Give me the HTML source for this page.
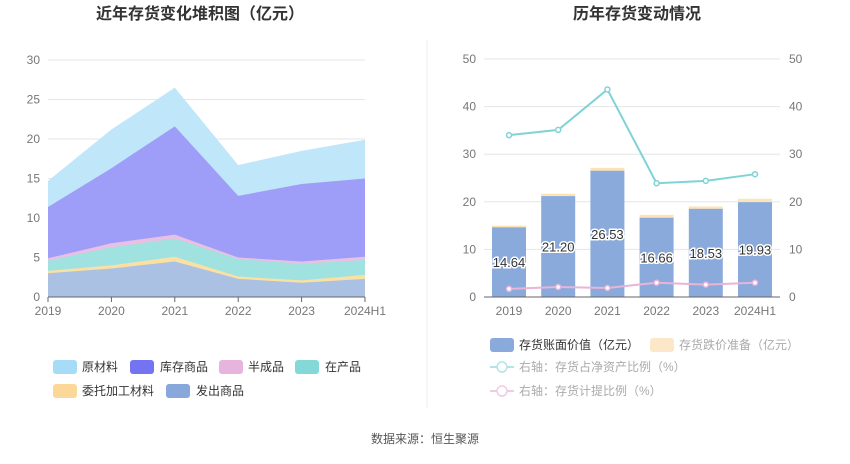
<!DOCTYPE html>
<html><head><meta charset="utf-8"><style>
body{margin:0;background:#fff;}
svg text{font-family:"Liberation Sans","Noto Sans CJK SC",sans-serif;}
</style></head><body>
<svg id="s" width="850" height="459" xmlns="http://www.w3.org/2000/svg"></svg>
<script>
const s=document.getElementById('s');let h='';
h+='<text x="200" y="19" text-anchor="middle" font-size="16" font-weight="bold" fill="#333">近年存货变化堆积图（亿元）</text>';
h+='<text x="637" y="19" text-anchor="middle" font-size="16" font-weight="bold" fill="#333">历年存货变动情况</text>';
h+='<line x1="427" y1="40" x2="427" y2="408" stroke="#eee"/>';
const y0=297,ly=v=>y0-v*7.9,lx=i=>48+i*63.4;
for(let v=0;v<=30;v+=5){h+=`<line x1="48" x2="365" y1="${ly(v)}" y2="${ly(v)}" stroke="#e6e6e6"/>`;h+=`<text x="40" y="${ly(v)+4}" text-anchor="end" font-size="12" fill="#777">${v}</text>`;}
const layers=[[3.0,3.6,4.5,2.3,1.8,2.3],[3.3,4.0,5.1,2.6,2.1,2.8],[4.6,6.3,7.4,4.8,4.2,4.7],[4.9,6.8,7.9,5.0,4.5,5.1],[11.4,16.3,21.6,12.8,14.3,15.0],[14.7,21.2,26.5,16.7,18.5,19.9]];
const cols=['#aac1e4','#fbe0a4','#a0e2e0','#e8c0e4','#9e9ef8','#c0e6fa'];
for(let k=layers.length-1;k>=0;k--){let p='';layers[k].forEach((v,i)=>p+=(i?'L':'M')+lx(i)+','+ly(v));p+=`L${lx(5)},${y0}L${lx(0)},${y0}Z`;h+=`<path d="${p}" fill="${cols[k]}"/>`;}
h+=`<line x1="48" x2="365" y1="${y0}" y2="${y0}" stroke="#666"/>`;
const yrs=['2019','2020','2021','2022','2023','2024H1'];
yrs.forEach((t,i)=>{h+=`<line x1="${lx(i)}" x2="${lx(i)}" y1="${y0}" y2="${y0+5}" stroke="#666"/><text x="${lx(i)}" y="${y0+18}" text-anchor="middle" font-size="12" fill="#777">${t}</text>`;});
const lg=[[53,82,367,'#a6dcf8','原材料'],[130,160,367,'#7474f2','库存商品'],[219,248,367,'#e6b4dc','半成品'],[295,325,367,'#84d8d8','在产品'],[53,82,391,'#fcd898','委托加工材料'],[166,196,391,'#88a8dc','发出商品']];
lg.forEach(([sx,tx,y,c,t])=>{h+=`<rect x="${sx}" y="${y-7}" width="24" height="14" rx="3" fill="${c}"/><text x="${tx}" y="${y+4}" font-size="12" fill="#333">${t}</text>`;});
const ry=v=>y0-v*4.76,rx=i=>509+i*49.2;
for(let v=0;v<=50;v+=10){h+=`<line x1="484" x2="780" y1="${ry(v)}" y2="${ry(v)}" stroke="#e6e6e6"/>`;h+=`<text x="476" y="${ry(v)+4}" text-anchor="end" font-size="12" fill="#777">${v}</text><text x="789" y="${ry(v)+4}" font-size="12" fill="#777">${v}</text>`;}
const bv=[14.64,21.20,26.53,16.66,18.53,19.93],dj=[0.35,0.5,0.6,0.6,0.5,0.7];
bv.forEach((v,i)=>{const x=rx(i)-17;h+=`<rect x="${x}" y="${ry(v+dj[i])}" width="34" height="${dj[i]*4.76}" fill="#fce4b4"/><rect x="${x}" y="${ry(v)}" width="34" height="${v*4.76}" fill="#8aaadc"/>`;
h+=`<text x="${rx(i)}" y="${ry(v/2)+5}" text-anchor="middle" font-size="13" fill="#333" stroke="#fff" stroke-width="3" paint-order="stroke">${v.toFixed(2)}</text>`;});
h+=`<line x1="484" x2="780" y1="${y0}" y2="${y0}" stroke="#666"/>`;
yrs.forEach((t,i)=>{h+=`<text x="${rx(i)}" y="${y0+18}" text-anchor="middle" font-size="12" fill="#777">${t}</text>`;});
const l1=[34.0,35.1,43.6,23.9,24.4,25.8],l2=[1.7,2.1,1.9,3.0,2.6,3.0];
[[l1,'#7fd3d6'],[l2,'#e8b4d8']].forEach(([d,c])=>{h+=`<polyline fill="none" stroke="${c}" stroke-width="2" points="${d.map((v,i)=>rx(i)+','+ry(v)).join(' ')}"/>`;d.forEach((v,i)=>h+=`<circle cx="${rx(i)}" cy="${ry(v)}" r="2.5" fill="#fff" stroke="${c}" stroke-width="1.5"/>`);});
h+=`<rect x="490" y="338" width="24" height="14" rx="3" fill="#8aaadc"/><text x="519" y="349" font-size="12" fill="#333">存货账面价值（亿元）</text>`;
h+=`<rect x="650" y="338" width="24" height="14" rx="3" fill="#fce8c8"/><text x="679" y="349" font-size="12" fill="#aaa">存货跌价准备（亿元）</text>`;
[[367,'#b4e4e6','右轴：存货占净资产比例（%）'],[391,'#f0cce4','右轴：存货计提比例（%）']].forEach(([y,c,t])=>{h+=`<line x1="490" x2="514" y1="${y}" y2="${y}" stroke="${c}" stroke-width="2"/><circle cx="502" cy="${y}" r="5" fill="#fff" stroke="${c}" stroke-width="1.5"/><text x="519" y="${y+4}" font-size="12" fill="#aaa">${t}</text>`;});
h+='<text x="425" y="443" text-anchor="middle" font-size="12" fill="#555">数据来源：恒生聚源</text>';
s.innerHTML=h;
</script>
</body></html>
